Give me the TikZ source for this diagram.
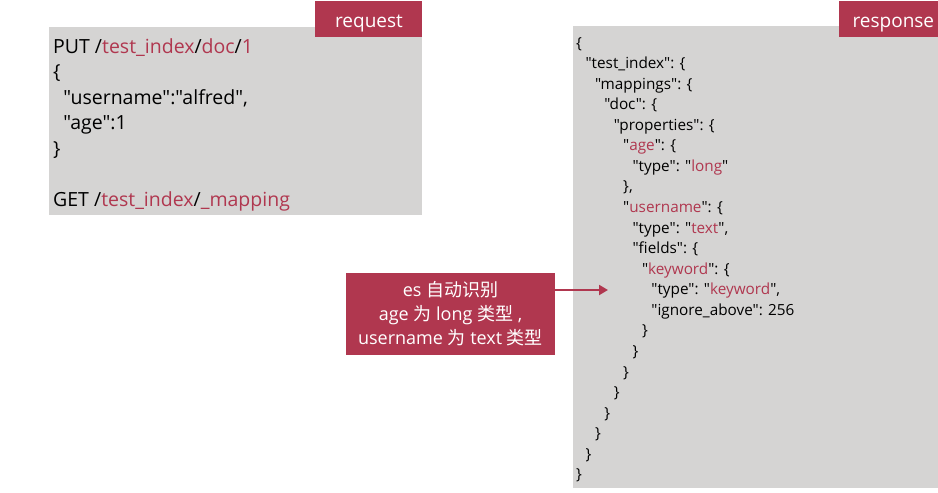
\documentclass[tikz,border=0pt]{standalone}
\usepackage{fontspec}
\setmainfont{Open Sans}[Ligatures=TeXOff]
\newfontfamily\cjk{Noto Sans CJK SC}
\usetikzlibrary{arrows.meta}
\definecolor{accent}{HTML}{B0374F}
\definecolor{boxgray}{HTML}{D5D4D3}
\newcommand\hl[1]{\textcolor{accent}{#1}}
\begin{document}
\begin{tikzpicture}[x=1pt,y=-1pt,
  panel/.style={fill=boxgray,draw=none,anchor=north west,inner sep=0},
  tag/.style={fill=accent,text=white,anchor=north west,inner sep=0,font=\fontsize{19}{22}\selectfont},
  req/.style={anchor=base west,inner sep=0,font=\fontsize{19.5}{22}\selectfont},
  res/.style={anchor=base west,inner sep=0,font=\fontsize{15.3}{17}\selectfont},
  note/.style={fill=accent,text=white,inner sep=0,align=center,font=\fontsize{18}{24}\selectfont}]
\useasboundingbox (0,0) rectangle (938,493);
\fill[white] (0,0) rectangle (938,493);
% request panel
\node[panel,minimum width=373,minimum height=188] (reqbox) at (49,27) {};
\node[tag,minimum width=107,minimum height=36] (reqtag) at (315,1) {};
\node[text=white,font=\fontsize{19}{22}\selectfont,anchor=base] (reqlbl) at (369,27) {request};
\node[req] (q1) at (53,53) {PUT /\hl{test\_index}/\hl{doc}/\hl{1}};
\node[req] (q2) at (53,78.5) {\{};
\node[req] (q3) at (53,104) {\ \ "username":"alfred",};
\node[req] (q4) at (53,129.5) {\ \ "age":1};
\node[req] (q5) at (53,155) {\}};
\node[req] (q6) at (53,206) {GET /\hl{test\_index}/\hl{\_mapping}};
% response panel
\node[panel,minimum width=365,minimum height=462] (resbox) at (573,26) {};
\node[tag,minimum width=99,minimum height=36] (restag) at (839,1) {};
\node[text=white,font=\fontsize{19}{22}\selectfont,anchor=base west] (reslbl) at (849,27) {response};
\def\ind{9.4}
\def\lh{20.57}
\node[res] (r1)  at (576+0*\ind,48+0*\lh)  {\{};
\node[res] (r2)  at (576+1*\ind,48+1*\lh)  {"test\_index": \{};
\node[res] (r3)  at (576+2*\ind,48+2*\lh)  {"mappings": \{};
\node[res] (r4)  at (576+3*\ind,48+3*\lh)  {"doc": \{};
\node[res] (r5)  at (576+4*\ind,48+4*\lh)  {"properties": \{};
\node[res] (r6)  at (576+5*\ind,48+5*\lh)  {"\hl{age}": \{};
\node[res] (r7)  at (576+6*\ind,48+6*\lh)  {"type": "\hl{long}"};
\node[res] (r8)  at (576+5*\ind,48+7*\lh)  {\},};
\node[res] (r9)  at (576+5*\ind,48+8*\lh)  {"\hl{username}": \{};
\node[res] (r10) at (576+6*\ind,48+9*\lh)  {"type": "\hl{text}",};
\node[res] (r11) at (576+6*\ind,48+10*\lh) {"fields": \{};
\node[res] (r12) at (576+7*\ind,48+11*\lh) {"\hl{keyword}": \{};
\node[res] (r13) at (576+8*\ind,48+12*\lh) {"type": "\hl{keyword}",};
\node[res] (r14) at (576+8*\ind,48+13*\lh) {"ignore\_above": 256};
\node[res] (r15) at (576+7*\ind,48+14*\lh) {\}};
\node[res] (r16) at (576+6*\ind,48+15*\lh) {\}};
\node[res] (r17) at (576+5*\ind,48+16*\lh) {\}};
\node[res] (r18) at (576+4*\ind,48+17*\lh) {\}};
\node[res] (r19) at (576+3*\ind,48+18*\lh) {\}};
\node[res] (r20) at (576+2*\ind,48+19*\lh) {\}};
\node[res] (r21) at (576+1*\ind,48+20*\lh) {\}};
\node[res] (r22) at (576+0*\ind,48+21*\lh) {\}};
% callout
\node[note,minimum width=209,minimum height=82] (callout) at (450.5,314)
  {es {\cjk 自动识别}\\age {\cjk 为} long {\cjk 类型} ,\\username {\cjk 为} text {\cjk 类型}};
\coordinate (tip) at (608,290);
\draw[accent,line width=2pt,-{Triangle[length=9pt,width=10pt]}] (callout.east |- tip) -- (tip);
\end{tikzpicture}
\end{document}
